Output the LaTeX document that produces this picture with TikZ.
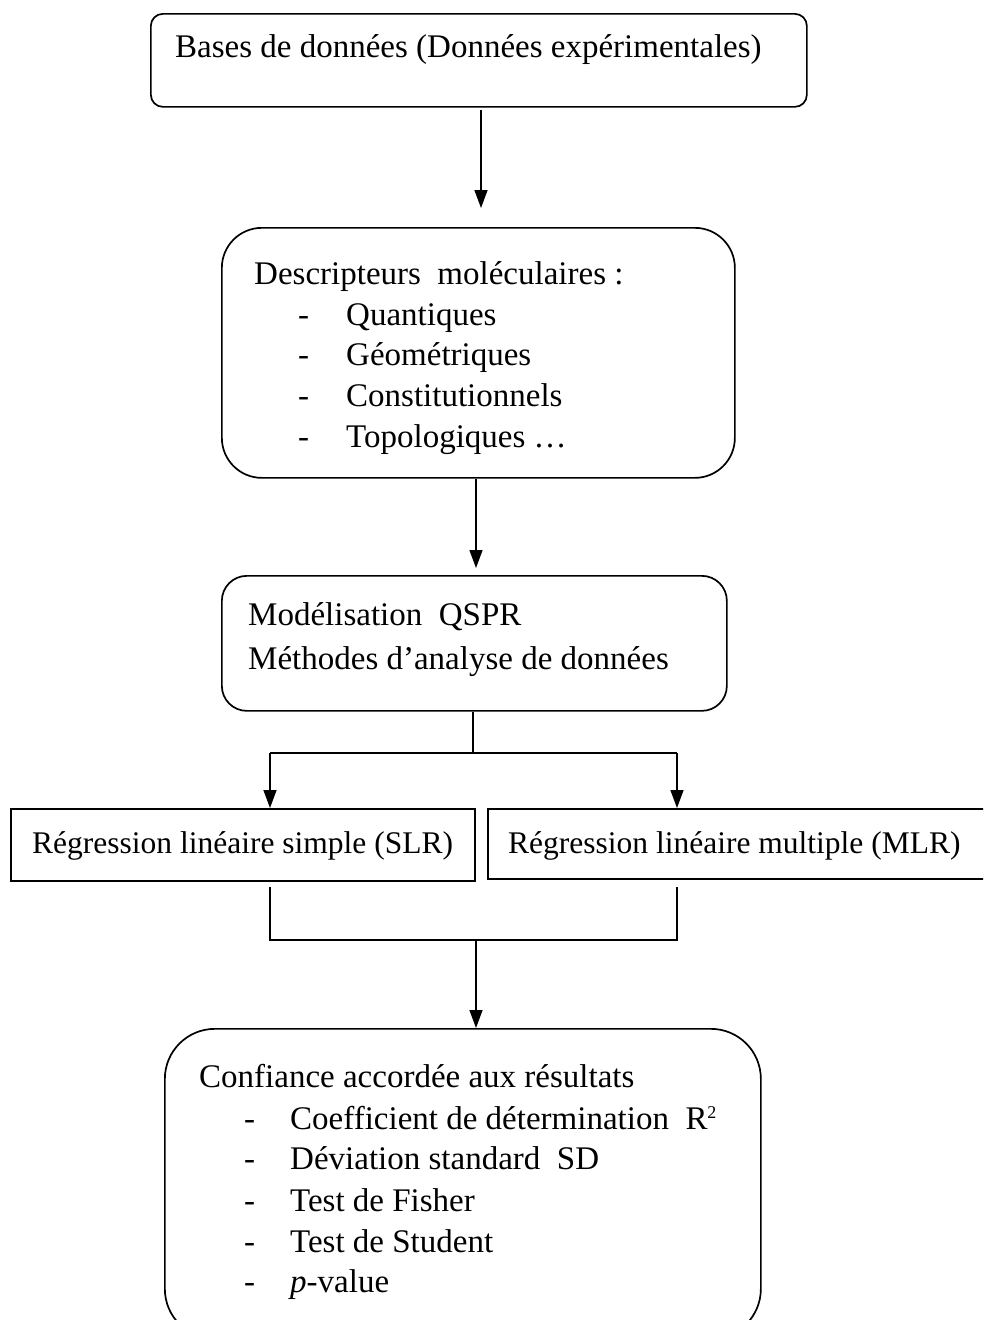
\documentclass[tikz,border=0pt]{standalone}
\usepackage{fontspec}
\setmainfont{Liberation Serif}
\usetikzlibrary{arrows.meta}
\begin{document}
\begin{tikzpicture}[x=1pt,y=-1pt,
  box/.style={draw, line width=1.7pt, inner sep=0pt, rectangle, anchor=north west},
  txt/.style={inner sep=0pt, anchor=base west, font=\fontsize{33}{40}\selectfont},
  stxt/.style={inner sep=0pt, anchor=base west, font=\fontsize{31.5}{38}\selectfont},
  conn/.style={line width=1.4pt},
  arr/.style={line width=1.4pt, -{Triangle[length=18pt,width=13pt]}}]
\useasboundingbox (0,0) rectangle (983,1320);
\clip (0,0) rectangle (983,1320);

% boxes
\node[box, rounded corners=12pt, minimum width=656pt, minimum height=93pt] (b1) at (150,13) {};
\node[box, rounded corners=40pt, minimum width=513pt, minimum height=250pt] (b2) at (221,227) {};
\node[box, rounded corners=25pt, minimum width=505pt, minimum height=135pt] (b3) at (221,575) {};
\node[box, minimum width=464pt, minimum height=72pt] (slr) at (10,808) {};
\node[box, minimum width=530pt, minimum height=70pt] (mlr) at (487,808) {};
\node[box, rounded corners=50pt, minimum width=596pt, minimum height=310pt] (b4) at (164,1028) {};

% texts
\node[txt] (t1) at (175,57) {Bases de données (Données expérimentales)};

\node[txt] (t2) at (254,284) {Descripteurs\ \ moléculaires :};
\node[txt] (d21) at (298,325) {-};
\node[txt] (d22) at (298,365) {-};
\node[txt] (d23) at (298,406) {-};
\node[txt] (d24) at (298,447) {-};
\node[txt] (i21) at (346,325) {Quantiques};
\node[txt] (i22) at (346,365) {Géométriques};
\node[txt] (i23) at (346,406) {Constitutionnels};
\node[txt] (i24) at (346,447) {Topologiques …};

\node[txt] (t31) at (248,625) {Modélisation\ \ QSPR};
\node[txt] (t32) at (248,669) {Méthodes d’analyse de données};

\node[stxt] (ts) at (32,853) {Régression linéaire simple (SLR)};
\node[stxt] (tm) at (508,853) {Régression linéaire multiple (MLR)};

\node[txt] (t4) at (199,1087) {Confiance accordée aux résultats};
\node[txt] (d41) at (244,1129) {-};
\node[txt] (d42) at (244,1169) {-};
\node[txt] (d43) at (244,1211) {-};
\node[txt] (d44) at (244,1252) {-};
\node[txt] (d45) at (244,1292) {-};
\node[txt] (i41) at (290,1129) {Coefficient de détermination\ \ R\raisebox{11pt}{\fontsize{18}{18}\selectfont 2}};
\node[txt] (i42) at (290,1169) {Déviation standard\ \ SD};
\node[txt] (i43) at (290,1211) {Test de Fisher};
\node[txt] (i44) at (290,1252) {Test de Student};
\node[txt] (i45) at (290,1292) {\textit{p}-value};

% connectors
\coordinate (a1s) at (481,110);
\coordinate (a1e) at (481,208);
\draw[arr] (a1s) -- (a1e);
\coordinate (a2e) at (476,568);
\draw[arr] (b2.south -| a2e) -- (a2e);

\coordinate (j1) at (473,753);
\coordinate (jl) at (270,753);
\coordinate (jr) at (677,753);
\draw[conn] (b3.south -| j1) -- (j1);
\draw[conn] (jl) -- (jr);
\draw[arr] (jl) -- (jl |- slr.north);
\draw[arr] (jr) -- (jr |- mlr.north);

\coordinate (c1) at (270,887);
\coordinate (c2) at (677,887);
\coordinate (c3) at (270,940);
\coordinate (c4) at (677,940);
\draw[conn] (c1) -- (c3) -- (c4) -- (c2);
\coordinate (m4) at (476,940);
\draw[arr] (m4) -- (m4 |- b4.north);
\end{tikzpicture}
\end{document}
